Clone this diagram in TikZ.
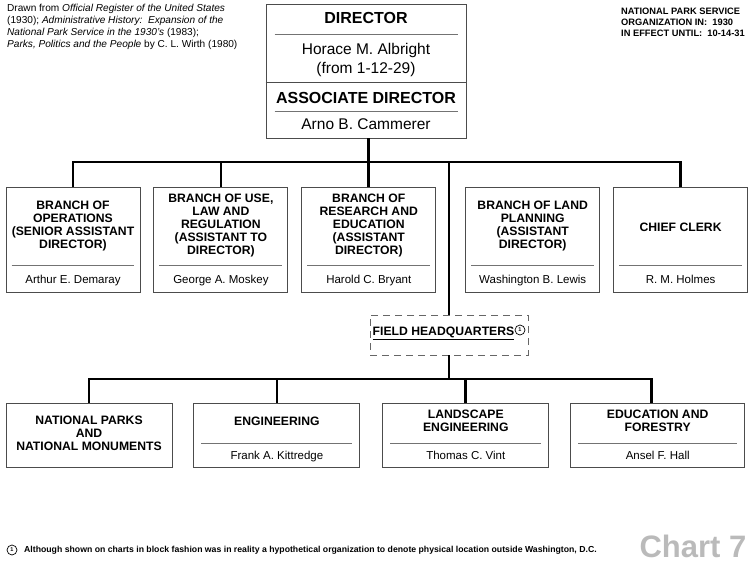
\documentclass[tikz,border=0pt]{standalone}
\usepackage{fontspec}
\setmainfont{Liberation Sans}
\usetikzlibrary{calc,positioning}

\begin{document}
\begin{tikzpicture}[x=1pt, y=-1pt, link/.style={draw=black, line width=2.8pt}, border/.style={draw=black!70, line width=0.9pt}]
    % Define styles for boxes, titles and names
    \tikzstyle{block} = [rectangle, border, fill=white, inner sep=0pt]
    \tikzstyle{branch} = [block, minimum width=134pt, minimum height=105pt]
    \tikzstyle{unit} = [block, minimum width=166pt, minimum height=64pt]
    \tikzstyle{boxtitle} = [align=center, inner sep=0pt, font=\fontsize{12.2}{13}\selectfont\bfseries]
    \tikzstyle{boxname} = [inner sep=0pt, text height=10.6pt, text depth=2.4pt, font=\fontsize{11.5}{13}\selectfont]
    \tikzstyle{rule} = [draw=black!55, line width=0.7pt]
    \tikzstyle{notemark} = [circle, draw, line width=0.7pt, inner sep=0pt, minimum size=10pt, font=\fontsize{5.5}{5.5}\selectfont\bfseries]

    \useasboundingbox (0,0) rectangle (750,563);

    % Sources and dates
    \node [anchor=north west, align=left, inner sep=0pt, font=\fontsize{10.1}{12}\selectfont] (sources) at (7,4)
        {Drawn from \textit{Official Register of the United States}\\(1930); \textit{Administrative History:\ \ Expansion of the}\\\textit{National Park Service in the 1930's} (1983);\\\textit{Parks, Politics and the People} by C. L. Wirth (1980)};
    \node [anchor=north west, align=left, inner sep=0pt, font=\fontsize{9.3}{11}\selectfont\bfseries] (dates) at (621,8)
        {NATIONAL PARK SERVICE\\ORGANIZATION IN:\ \ 1930\\IN EFFECT UNTIL:\ \ 10-14-31};

    % Director box
    \node [block, minimum width=200pt, minimum height=134pt] (director) at (366,71) {};
    \node [font=\fontsize{16}{19}\selectfont\bfseries, inner sep=0pt] (dirtitle) at (366,18) {DIRECTOR};
    \node [align=center, inner sep=0pt, font=\fontsize{15.5}{19}\selectfont] (dirname) at (366,59.5) {Horace M. Albright\\(from 1-12-29)};
    \node [font=\fontsize{16}{19}\selectfont\bfseries, inner sep=0pt] (assoctitle) at (366,98) {ASSOCIATE DIRECTOR};
    \node [inner sep=0pt, font=\fontsize{15.5}{19}\selectfont] (assocname) at (366,124) {Arno B. Cammerer};
    \draw [rule] ($(director.north west)+(9,31)$) -- ($(director.north east)+(-8,31)$);
    \draw [border] ($(director.north west)+(0,79)$) -- ($(director.north east)+(0,79)$);
    \draw [rule] ($(director.north west)+(9,108)$) -- ($(director.north east)+(-8,108)$);

    % Branches
    \node [branch] (ops) at (73,239.5) {};
    \node [branch, right=13pt of ops] (use) {};
    \node [branch, right=13pt of use] (research) {};
    \node [branch, right=29pt of research] (land) {};
    \node [branch, right=13pt of land] (clerk) {};

    \node [boxtitle] (opstitle) at ([yshift=-39pt]ops.north) {BRANCH OF\\OPERATIONS\\(SENIOR ASSISTANT\\DIRECTOR)};
    \node [boxtitle] (usetitle) at ([yshift=-39pt]use.north) {BRANCH OF USE,\\LAW AND\\REGULATION\\(ASSISTANT TO\\DIRECTOR)};
    \node [boxtitle] (researchtitle) at ([yshift=-39pt]research.north) {BRANCH OF\\RESEARCH AND\\EDUCATION\\(ASSISTANT\\DIRECTOR)};
    \node [boxtitle] (landtitle) at ([yshift=-39pt]land.north) {BRANCH OF LAND\\PLANNING\\(ASSISTANT\\DIRECTOR)};
    \node [boxtitle] (clerktitle) at ([yshift=-41pt]clerk.north) {CHIEF CLERK};

    \node [boxname] (opsname) at ([yshift=13pt]ops.south) {Arthur E. Demaray};
    \node [boxname] (usename) at ([yshift=13pt]use.south) {George A. Moskey};
    \node [boxname] (researchname) at ([yshift=13pt]research.south) {Harold C. Bryant};
    \node [boxname] (landname) at ([yshift=13pt]land.south) {Washington B. Lewis};
    \node [boxname] (clerkname) at ([yshift=13pt]clerk.south) {R. M. Holmes};

    \foreach \b in {ops,use,research,land,clerk}
        \draw [rule] ($(\b.south west)+(6,-27)$) -- ($(\b.south east)+(-6,-27)$);

    % Field headquarters
    \node [rectangle, draw=black!60, line width=0.9pt, dash pattern=on 7pt off 5pt, minimum width=158pt, minimum height=40pt] (fhq) at (449,335) {};
    \node [boxtitle] (fhqtext) at (443.5,333.5) {\underline{FIELD HEADQUARTERS}};
    \node [notemark] (fhqnote) at (520,330) {1};

    % Units under field headquarters
    \node [unit] (parks) at (89,435) {};
    \node [unit, right=21pt of parks] (engineering) {};
    \node [unit, right=22pt of engineering] (landscape) {};
    \node [unit, right=21pt of landscape, minimum width=174pt] (forestry) {};

    \node [boxtitle] (parkstitle) at ([yshift=-31pt]parks.north) {NATIONAL PARKS\\AND\\NATIONAL MONUMENTS};
    \node [boxtitle] (engineeringtitle) at ([yshift=-19pt]engineering.north) {ENGINEERING};
    \node [boxtitle] (landscapetitle) at ([yshift=-18.5pt]landscape.north) {LANDSCAPE\\ENGINEERING};
    \node [boxtitle] (forestrytitle) at ([yshift=-18.5pt]forestry.north) {EDUCATION AND\\FORESTRY};

    \node [boxname] (engineeringname) at ([yshift=12pt]engineering.south) {Frank A. Kittredge};
    \node [boxname] (landscapename) at ([yshift=12pt]landscape.south) {Thomas C. Vint};
    \node [boxname] (forestryname) at ([yshift=12pt]forestry.south) {Ansel F. Hall};

    \foreach \b in {engineering,landscape,forestry}
        \draw [rule] ($(\b.south west)+(8,-24)$) -- ($(\b.south east)+(-8,-24)$);

    % Draw connectors
    \coordinate (bar) at (0,162);
    \coordinate (lowbar) at (0,379);
    \coordinate (forestrytop) at ([xshift=-6pt]forestry.north);
    \draw [link] (research.north |- director.south) -- (research.north);
    \draw [link] (ops.north) |- (clerk.north |- bar) -- (clerk.north);
    \draw [link] (use.north |- bar) -- (use.north);
    \draw [link] (fhq.north |- bar) -- (fhq.north);
    \draw [link] (fhq.south) -- (fhq.south |- lowbar);
    \draw [link] (parks.north) |- (forestrytop |- lowbar) -- (forestrytop);
    \draw [link] (engineering.north |- lowbar) -- (engineering.north);
    \draw [link] (landscape.north |- lowbar) -- (landscape.north);

    % Footnote and chart number
    \node [notemark] (footnote) at (12,550) {1};
    \node [anchor=west, inner sep=0pt, font=\fontsize{8.7}{10}\selectfont\bfseries] (notetext) at (24,550)
        {Although shown on charts in block fashion was in reality a hypothetical organization to denote physical location outside Washington, D.C.};
    \node [inner sep=0pt, font=\fontsize{31}{31}\selectfont\bfseries, text=black!27] (chart) at (693,546) {Chart 7};
\end{tikzpicture}
\end{document}
